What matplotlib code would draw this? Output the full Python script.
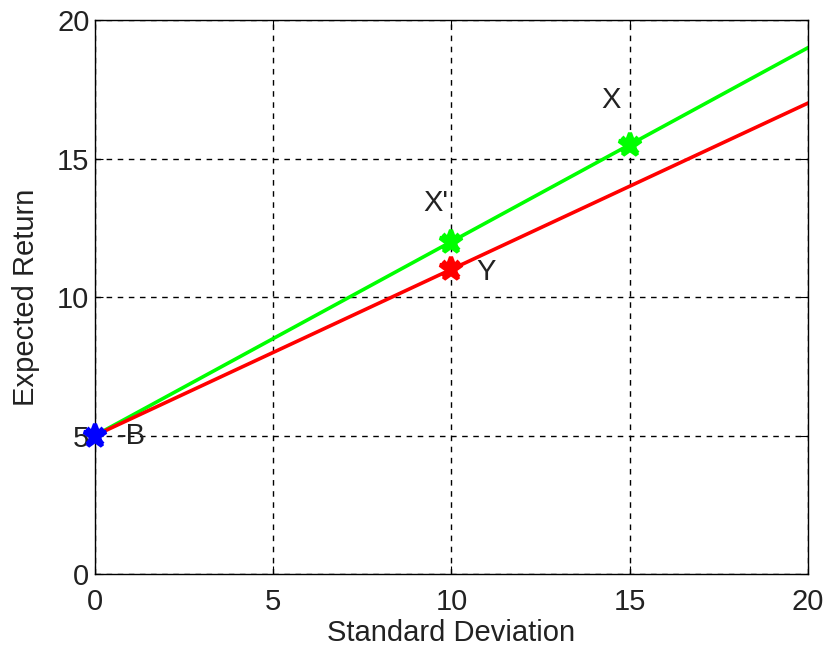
import numpy as np
import matplotlib
matplotlib.use("Agg")
import matplotlib.pyplot as plt

plt.rcParams['font.family'] = ['Liberation Sans', 'DejaVu Sans']

# line endpoints (std dev, expected return)
green_x = [0, 20]
green_y = [5, 19]
red_x = [0, 20]
red_y = [5, 17]

# marked portfolios
pt_names = ['-B', 'Y', "X'", 'X']
pt_x = [0, 10, 10, 15]
pt_y = [5, 11, 12, 15.5]
pt_colors = ['blue', 'red', '#00ff00', '#00ff00']
lab_x = [0.6, 10.7, 9.2, 14.2]
lab_y = [5, 10.9, 13.4, 17.1]

fs = 21
fig = plt.figure(figsize=(8.28, 6.54), dpi=100)
ax = fig.add_axes([0.1147, 0.1223, 0.8611, 0.8471])

ax.plot(green_x, green_y, color='#00ff00', lw=2.6)
ax.plot(red_x, red_y, color='red', lw=2.6)
for x, y, c in zip(pt_x, pt_y, pt_colors):
    ax.plot(x, y, marker='*', color=c, ms=17, mew=3, linestyle='none', clip_on=False, zorder=5)
    ax.plot(x, y, marker='x', color=c, ms=12, mew=3, linestyle='none', clip_on=False, zorder=5)
for name, x, y in zip(pt_names, lab_x, lab_y):
    ax.text(x, y, name, fontsize=fs, color='#222222', va='center', ha='left')

ax.set_xlim(0, 20)
ax.set_ylim(0, 20)
ax.set_xticks([0, 5, 10, 15, 20])
ax.set_yticks([0, 5, 10, 15, 20])
ax.grid(True, color='black', linestyle=(0, (4, 4)), lw=1)
ax.tick_params(direction='in', length=6, labelsize=fs, labelcolor='#222222')
ax.tick_params(axis='x', pad=10)
ax.tick_params(axis='y', pad=4)
ax.tick_params(top=True, right=True, labeltop=False, labelright=False)
for s in ax.spines.values():
    s.set_linewidth(1)
ax.set_xlabel('Standard Deviation', fontsize=fs, color='#222222', labelpad=2)
ax.set_ylabel('Expected Return', fontsize=fs, color='#222222', labelpad=12)

fig.savefig('out.png', dpi=100)
